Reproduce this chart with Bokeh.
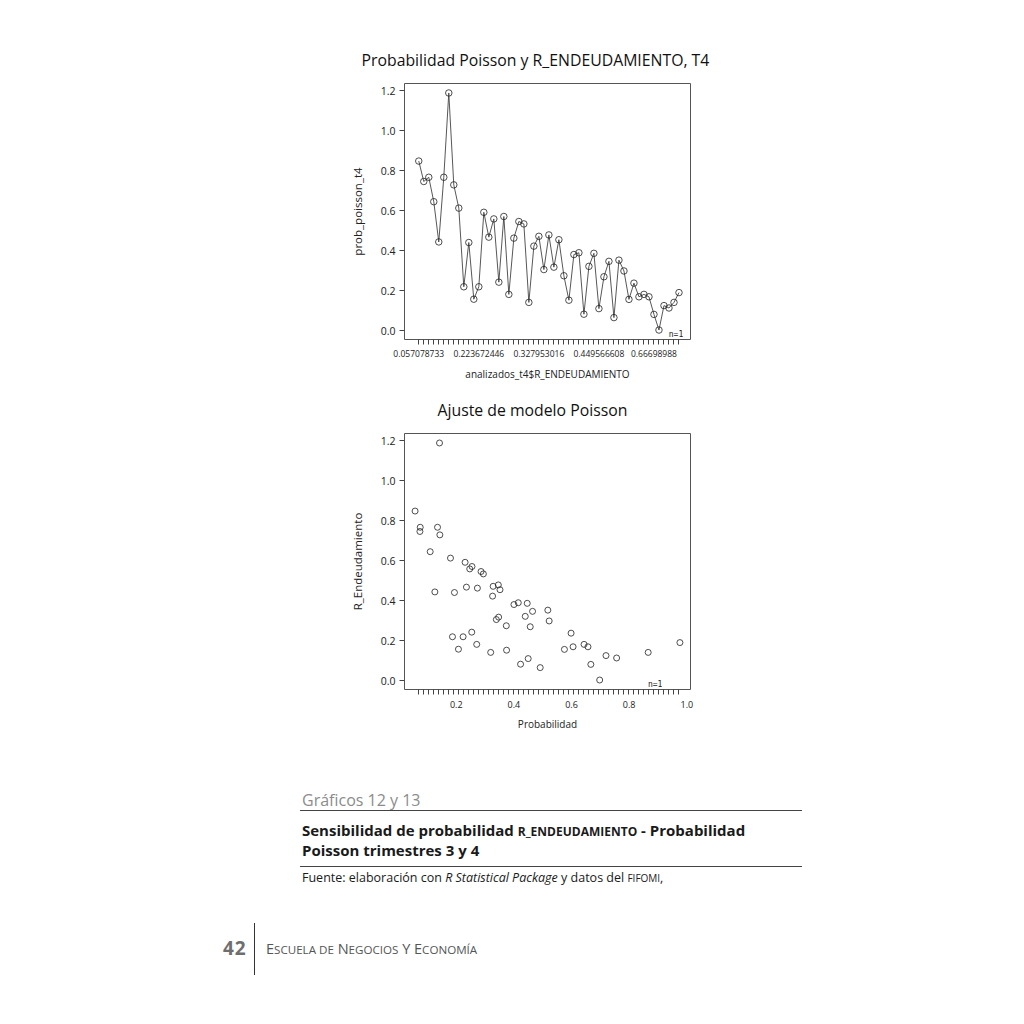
import numpy as np
from bokeh.plotting import figure
from bokeh.models import Range1d, FixedTicker, PrintfTickFormatter, Label, Div
from bokeh.layouts import column
from bokeh.embed import file_html
from bokeh.resources import INLINE

# ---------------- data ----------------
r_endeudamiento = [
    0.057078733, 0.0738, 0.0749, 0.1095, 0.1257, 0.1349, 0.1418, 0.1430, 0.1799, 0.1868,
    0.1937, 0.2075, 0.223672446, 0.2306, 0.2352, 0.2467, 0.2537, 0.2545, 0.2709, 0.2733,
    0.2859, 0.2940, 0.3194, 0.3260, 0.327953016, 0.3390, 0.3459, 0.3470, 0.3517, 0.3736,
    0.3745, 0.4001, 0.4151, 0.4231, 0.4393, 0.4462, 0.449566608, 0.4566, 0.4647, 0.4912,
    0.5177, 0.5223, 0.5753, 0.5984, 0.6053, 0.6434, 0.6570, 0.66698988, 0.6976, 0.7195,
    0.7564, 0.8659, 0.9760,
]
prob_poisson_t4 = [
    0.848, 0.746, 0.767, 0.645, 0.444, 0.767, 1.188, 0.729, 0.613, 0.220,
    0.441, 0.158, 0.220, 0.592, 0.468, 0.559, 0.243, 0.571, 0.182, 0.463,
    0.546, 0.534, 0.142, 0.423, 0.472, 0.306, 0.479, 0.318, 0.455, 0.275,
    0.153, 0.381, 0.390, 0.083, 0.322, 0.387, 0.111, 0.270, 0.347, 0.066,
    0.353, 0.299, 0.157, 0.238, 0.170, 0.182, 0.170, 0.082, 0.004, 0.126,
    0.114, 0.142, 0.191,
]
top_tick_levels = [1, 13, 25, 37, 48]
top_tick_labels = ["0.057078733", "0.223672446", "0.327953016", "0.449566608", "0.66698988"]
y_ticks = [0.0, 0.2, 0.4, 0.6, 0.8, 1.0, 1.2]
bottom_x_ticks = [0.2, 0.4, 0.6, 0.8, 1.0]
n_label_text = "n=1"
n_label_x_top = 53
n_label_x_bottom = 0.89

title_top = "Probabilidad Poisson y R_ENDEUDAMIENTO, T4"
title_bottom = "Ajuste de modelo Poisson"

FONT = "Open Sans"
INK = "#222222"
levels = list(range(1, len(r_endeudamiento) + 1))


def r_range(vals):
    lo, hi = min(vals), max(vals)
    pad = 0.04 * (hi - lo)
    return lo - pad, hi + pad


ylo, yhi = r_range(prob_poisson_t4)
bxlo, bxhi = r_range(r_endeudamiento)
txlo, txhi = -1.85, 55.3


def style(p, title_offset):
    p.outline_line_color = "#555555"
    p.outline_line_width = 1
    p.xgrid.grid_line_color = None
    p.ygrid.grid_line_color = None
    p.background_fill_color = "white"
    p.border_fill_color = "white"
    p.title.text_font = FONT
    p.title.text_font_size = "15.8px"
    p.title.text_font_style = "normal"
    p.title.text_color = "#111111"
    p.title.align = "left"
    p.title.offset = title_offset
    p.title.standoff = 26
    for ax in p.axis:
        ax.axis_line_color = None
        ax.major_tick_line_color = "#444444"
        ax.minor_tick_line_color = "#444444"
        ax.major_tick_in = 0
        ax.major_tick_out = 5
        ax.minor_tick_in = 0
        ax.minor_tick_out = 0
        ax.major_label_text_font = FONT
        ax.major_label_text_color = INK
        ax.axis_label_text_font = FONT
        ax.axis_label_text_font_style = "normal"
        ax.axis_label_text_color = INK
    p.xaxis.axis_label_text_font_size = "10px"
    p.yaxis.axis_label_text_font_size = "11.5px"
    p.yaxis.ticker = FixedTicker(ticks=y_ticks)
    p.yaxis.formatter = PrintfTickFormatter(format="%.1f")
    p.yaxis.major_label_text_font_size = "10.5px"
    p.yaxis.major_label_standoff = 4
    p.yaxis.axis_label_standoff = 13


# ---------------- top chart ----------------
p1 = figure(width=1008, height=383, x_range=Range1d(txlo, txhi), y_range=Range1d(ylo, yhi),
            output_backend="svg", toolbar_location=None, title=title_top,
            min_border_left=404, min_border_right=318, min_border_top=83, min_border_bottom=43)
style(p1, -43)
p1.xaxis.ticker = FixedTicker(ticks=levels)
p1.xaxis.major_label_overrides = {
    lv: (top_tick_labels[top_tick_levels.index(lv)] if lv in top_tick_levels else "")
    for lv in levels
}
p1.xaxis.major_label_text_font_size = "8.5px"
p1.xaxis.major_label_standoff = 5
p1.xaxis.axis_label = "analizados_t4$R_ENDEUDAMIENTO"
p1.xaxis.axis_label_standoff = 7
p1.yaxis.axis_label = "prob_poisson_t4"

p1.line(levels, prob_poisson_t4, line_color="#444444", line_width=0.9)
p1.scatter(levels, prob_poisson_t4, marker="circle", size=6.5, fill_color=None,
           line_color=INK, line_width=0.8)
p1.add_layout(Label(x=n_label_x_top, y=ylo, text=n_label_text, text_align="center",
                    text_baseline="bottom", y_offset=1, x_offset=-3, text_font="DejaVu Sans Mono",
                    text_font_size="8px", text_color=INK))

# ---------------- bottom chart ----------------
p2 = figure(width=1008, height=357, x_range=Range1d(bxlo, bxhi), y_range=Range1d(ylo, yhi),
            output_backend="svg", toolbar_location=None, title=title_bottom,
            min_border_left=404, min_border_right=318, min_border_top=50, min_border_bottom=51)
style(p2, 33)
bottom_minor = [bxlo + (lv - txlo) / (txhi - txlo) * (bxhi - bxlo) for lv in levels]
p2.xaxis.ticker = FixedTicker(ticks=bottom_x_ticks, minor_ticks=bottom_minor)
p2.xaxis.formatter = PrintfTickFormatter(format="%.1f")
p2.xaxis.major_tick_out = 0
p2.xaxis.minor_tick_out = 5
p2.xaxis.major_label_text_font_size = "9px"
p2.xaxis.major_label_standoff = 6
p2.xaxis.axis_label = "Probabilidad"
p2.xaxis.axis_label_standoff = 6
p2.yaxis.axis_label = "R_Endeudamiento"

p2.scatter(r_endeudamiento, prob_poisson_t4, marker="circle", size=6, fill_color=None,
           line_color=INK, line_width=0.8)
p2.add_layout(Label(x=n_label_x_bottom, y=ylo, text=n_label_text, text_align="center",
                    text_baseline="bottom", y_offset=1, text_font="DejaVu Sans Mono",
                    text_font_size="8px", text_color=INK))

# ---------------- caption / footer ----------------
SC = "font-size:0.8em;"
caption_html = f"""
<div style="position:relative;width:1008px;height:262px;font-family:'Open Sans',sans-serif;color:#1a1a1a;">
  <div style="position:absolute;left:302px;top:52px;font-size:16px;line-height:16px;color:#8c8c8c;white-space:nowrap;">Gráficos 12 y 13</div>
  <div style="position:absolute;left:300px;top:70px;width:502px;height:0;border-top:1px solid #444;"></div>
  <div style="position:absolute;left:302px;top:81px;font-size:15px;line-height:19px;font-weight:bold;white-space:nowrap;">Sensibilidad de probabilidad <span style="{SC}">R_ENDEUDAMIENTO</span> - Probabilidad<br>Poisson trimestres 3 y 4</div>
  <div style="position:absolute;left:300px;top:126px;width:502px;height:0;border-top:1px solid #444;"></div>
  <div style="position:absolute;left:302px;top:132px;font-size:12.5px;line-height:12.5px;white-space:nowrap;">Fuente: elaboración con <i>R Statistical Package</i> y datos del <span style="{SC}">FIFOMI</span>,</div>
  <div style="position:absolute;left:223px;top:199px;font-size:19px;line-height:19px;font-weight:bold;color:#6e6e6e;white-space:nowrap;letter-spacing:1px;">42</div>
  <div style="position:absolute;left:254px;top:183px;width:0;height:52px;border-left:1px solid #333;"></div>
  <div style="position:absolute;left:266px;top:202px;font-size:14.5px;line-height:14.5px;color:#555;white-space:nowrap;">E<span style="{SC}">SCUELA DE</span> N<span style="{SC}">EGOCIOS</span> Y E<span style="{SC}">CONOMÍA</span></div>
</div>
"""
caption = Div(text=caption_html, width=1008, height=262, margin=(0, 0, 0, 0))

layout = column(p1, p2, caption, spacing=0)
open("out.html", "w").write(file_html(layout, INLINE))
